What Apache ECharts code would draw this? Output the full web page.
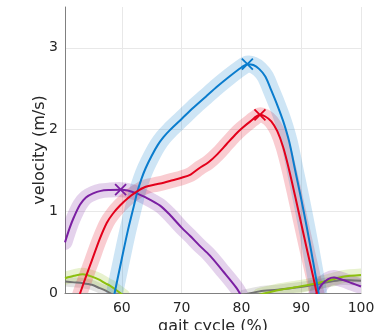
<!DOCTYPE html>
<html>
<head>
<meta charset="utf-8">
<script src="https://cdn.jsdelivr.net/npm/echarts@6/dist/echarts.min.js"></script>
<style>
  html, body { margin: 0; padding: 0; background: #fff; }
  #chart { width: 379px; height: 330px; }
</style>
</head>
<body>
<div id="chart"></div>
<script>
// gait cycle (%) / velocity (m/s)
const blueX = [58.6, 60, 61, 62, 62.6, 63.3, 64, 65, 66, 67, 68, 70, 72, 74, 76, 78, 80, 81, 82, 83, 84, 85, 86, 87, 88, 89, 90, 91, 92, 93.1]
const blueY = [-0.07, 0.42, 0.76, 1.06, 1.24, 1.4, 1.53, 1.68, 1.81, 1.91, 1.99, 2.13, 2.27, 2.4, 2.53, 2.65, 2.76, 2.8, 2.79, 2.74, 2.65, 2.48, 2.3, 2.1, 1.85, 1.5, 1.15, 0.78, 0.38, -0.08]

const redX = [52.8, 54, 55, 56.3, 57.5, 58.5, 59.7, 61, 62.5, 64, 65.8, 67, 68.5, 70, 71.5, 73, 74.5, 76, 77.5, 79, 80, 81.5, 83.1, 84, 85, 86, 87, 88, 89, 90, 91, 92, 92.8]
const redY = [-0.05, 0.2, 0.4, 0.66, 0.86, 0.97, 1.07, 1.16, 1.24, 1.3, 1.33, 1.35, 1.38, 1.41, 1.45, 1.53, 1.6, 1.7, 1.82, 1.94, 2.01, 2.1, 2.18, 2.16, 2.1, 1.98, 1.78, 1.5, 1.18, 0.85, 0.52, 0.2, -0.07]

const purpleX = [50.5, 51.3, 52, 53, 54, 55.2, 56.5, 58, 59.8, 61, 62.5, 64, 66.4, 68, 70, 71.4, 73, 74.7, 77, 79.2, 80, 86, 92.2, 92.6, 93.4, 94.5, 95.5, 97, 98.5, 100]
const purpleY = [0.62, 0.8, 0.93, 1.08, 1.17, 1.22, 1.25, 1.26, 1.265, 1.255, 1.22, 1.17, 1.07, 0.96, 0.8, 0.7, 0.58, 0.46, 0.26, 0.06, -0.04, null, -0.05, 0, 0.1, 0.17, 0.19, 0.16, 0.12, 0.08]

const greenX = [50.5, 52, 53.5, 55, 56.3, 57.2, 58, 59, 60.3, 72, 83, 86.5, 89, 92, 94.9, 97, 100]
const greenY = [0.18, 0.21, 0.23, 0.2, 0.16, 0.12, 0.09, 0.04, -0.03, null, -0.02, 0.04, 0.07, 0.11, 0.16, 0.2, 0.22]

const grayX = [50.5, 52, 53.5, 55, 56.3, 57.3, 58.7, 70, 80.4, 83, 86, 89.5, 92.9, 95, 97, 100]
const grayY = [0.14, 0.13, 0.12, 0.1, 0.06, 0.03, -0.03, null, -0.02, 0.02, 0.04, 0.07, 0.11, 0.14, 0.16, 0.15]

// peak markers (x): blue, red, purple
const peakX = [81, 83.1, 59.8]
const peakY = [2.8, 2.18, 1.265]

const BLUE = '#0a7ccd'
const RED = '#e3001b'
const PURPLE = '#7a1fa2'
const GREEN = '#8cbf0f'
const GRAY = '#737373'
const peakColors = [BLUE, RED, PURPLE]

function zip(xs, ys) {
  return xs.map((x, i) => [x, ys[i]])
}

// wide translucent stroke under each curve, as a custom series so it is clipped to the grid
function bandSeries(xs, ys, color, width) {
  return {
    type: 'custom',
    clip: true,
    silent: true,
    data: [[xs[0], 0]],
    renderItem: (params, api) => {
      const segments = [[]]
      xs.forEach((x, i) => {
        if (ys[i] === null) {
          segments.push([])
        } else {
          segments[segments.length - 1].push(api.coord([x, ys[i]]))
        }
      })
      return {
        type: 'group',
        children: segments.filter(s => s.length > 1).map(points => ({
          type: 'polyline',
          shape: { points: points, smooth: 0.3 },
          style: { stroke: color, lineWidth: width, opacity: 0.2, fill: null, lineCap: 'round', lineJoin: 'round' }
        }))
      }
    }
  }
}

function lineSeries(xs, ys, color) {
  return {
    type: 'line',
    data: zip(xs, ys),
    smooth: 0.3,
    showSymbol: false,
    silent: true,
    lineStyle: { color: color, width: 2 }
  }
}

const chart = echarts.init(document.getElementById('chart'))
const font = 'DejaVu Sans'

chart.setOption({
  animation: false,
  grid: { left: 65, right: 18, top: 7, bottom: 37, outerBoundsMode: 'none' },
  xAxis: {
    type: 'value',
    min: 50.5,
    max: 100,
    name: 'gait cycle (%)',
    nameLocation: 'middle',
    nameGap: 26,
    nameMoveOverlap: false,
    nameTextStyle: { fontFamily: font, fontSize: 16, color: '#262626', verticalAlign: 'top' },
    axisLine: { show: true, onZero: false, lineStyle: { color: '#808080', width: 1 } },
    axisTick: { show: false },
    axisLabel: {
      fontFamily: font, fontSize: 14, color: '#262626', margin: 8,
      showMinLabel: false,
      formatter: v => (v % 10 === 0 ? String(v) : '')
    },
    splitLine: { show: true, showMinLine: false, lineStyle: { color: '#e8e8e8', width: 1 } }
  },
  yAxis: {
    type: 'value',
    min: 0,
    max: 3.5,
    interval: 1,
    name: 'velocity (m/s)',
    nameLocation: 'middle',
    nameGap: 17,
    nameMoveOverlap: false,
    nameTextStyle: { fontFamily: font, fontSize: 16, color: '#262626' },
    axisLine: { show: true, lineStyle: { color: '#808080', width: 1 } },
    axisTick: { show: false },
    axisLabel: {
      fontFamily: font, fontSize: 14, color: '#262626', margin: 7,
      showMaxLabel: false,
      formatter: v => (v % 1 === 0 ? String(v) : '')
    },
    splitLine: { show: true, showMinLine: false, showMaxLine: false, lineStyle: { color: '#e8e8e8', width: 1 } }
  },
  series: [
    bandSeries(grayX, grayY, GRAY, 10),
    bandSeries(greenX, greenY, GREEN, 13),
    bandSeries(purpleX, purpleY, PURPLE, 15),
    bandSeries(redX, redY, RED, 15),
    bandSeries(blueX, blueY, BLUE, 17),
    lineSeries(grayX, grayY, GRAY),
    lineSeries(greenX, greenY, GREEN),
    lineSeries(purpleX, purpleY, PURPLE),
    lineSeries(blueX, blueY, BLUE),
    lineSeries(redX, redY, RED),
    {
      type: 'scatter',
      data: peakX.map((x, i) => ({
        value: [x, peakY[i]],
        itemStyle: { color: 'rgba(0,0,0,0)', borderColor: peakColors[i], borderWidth: 1.8, opacity: 1 }
      })),
      symbol: 'path://M0,0L10,10M10,0L0,10',
      symbolSize: 11,
      silent: true
    }
  ]
})
</script>
</body>
</html>
